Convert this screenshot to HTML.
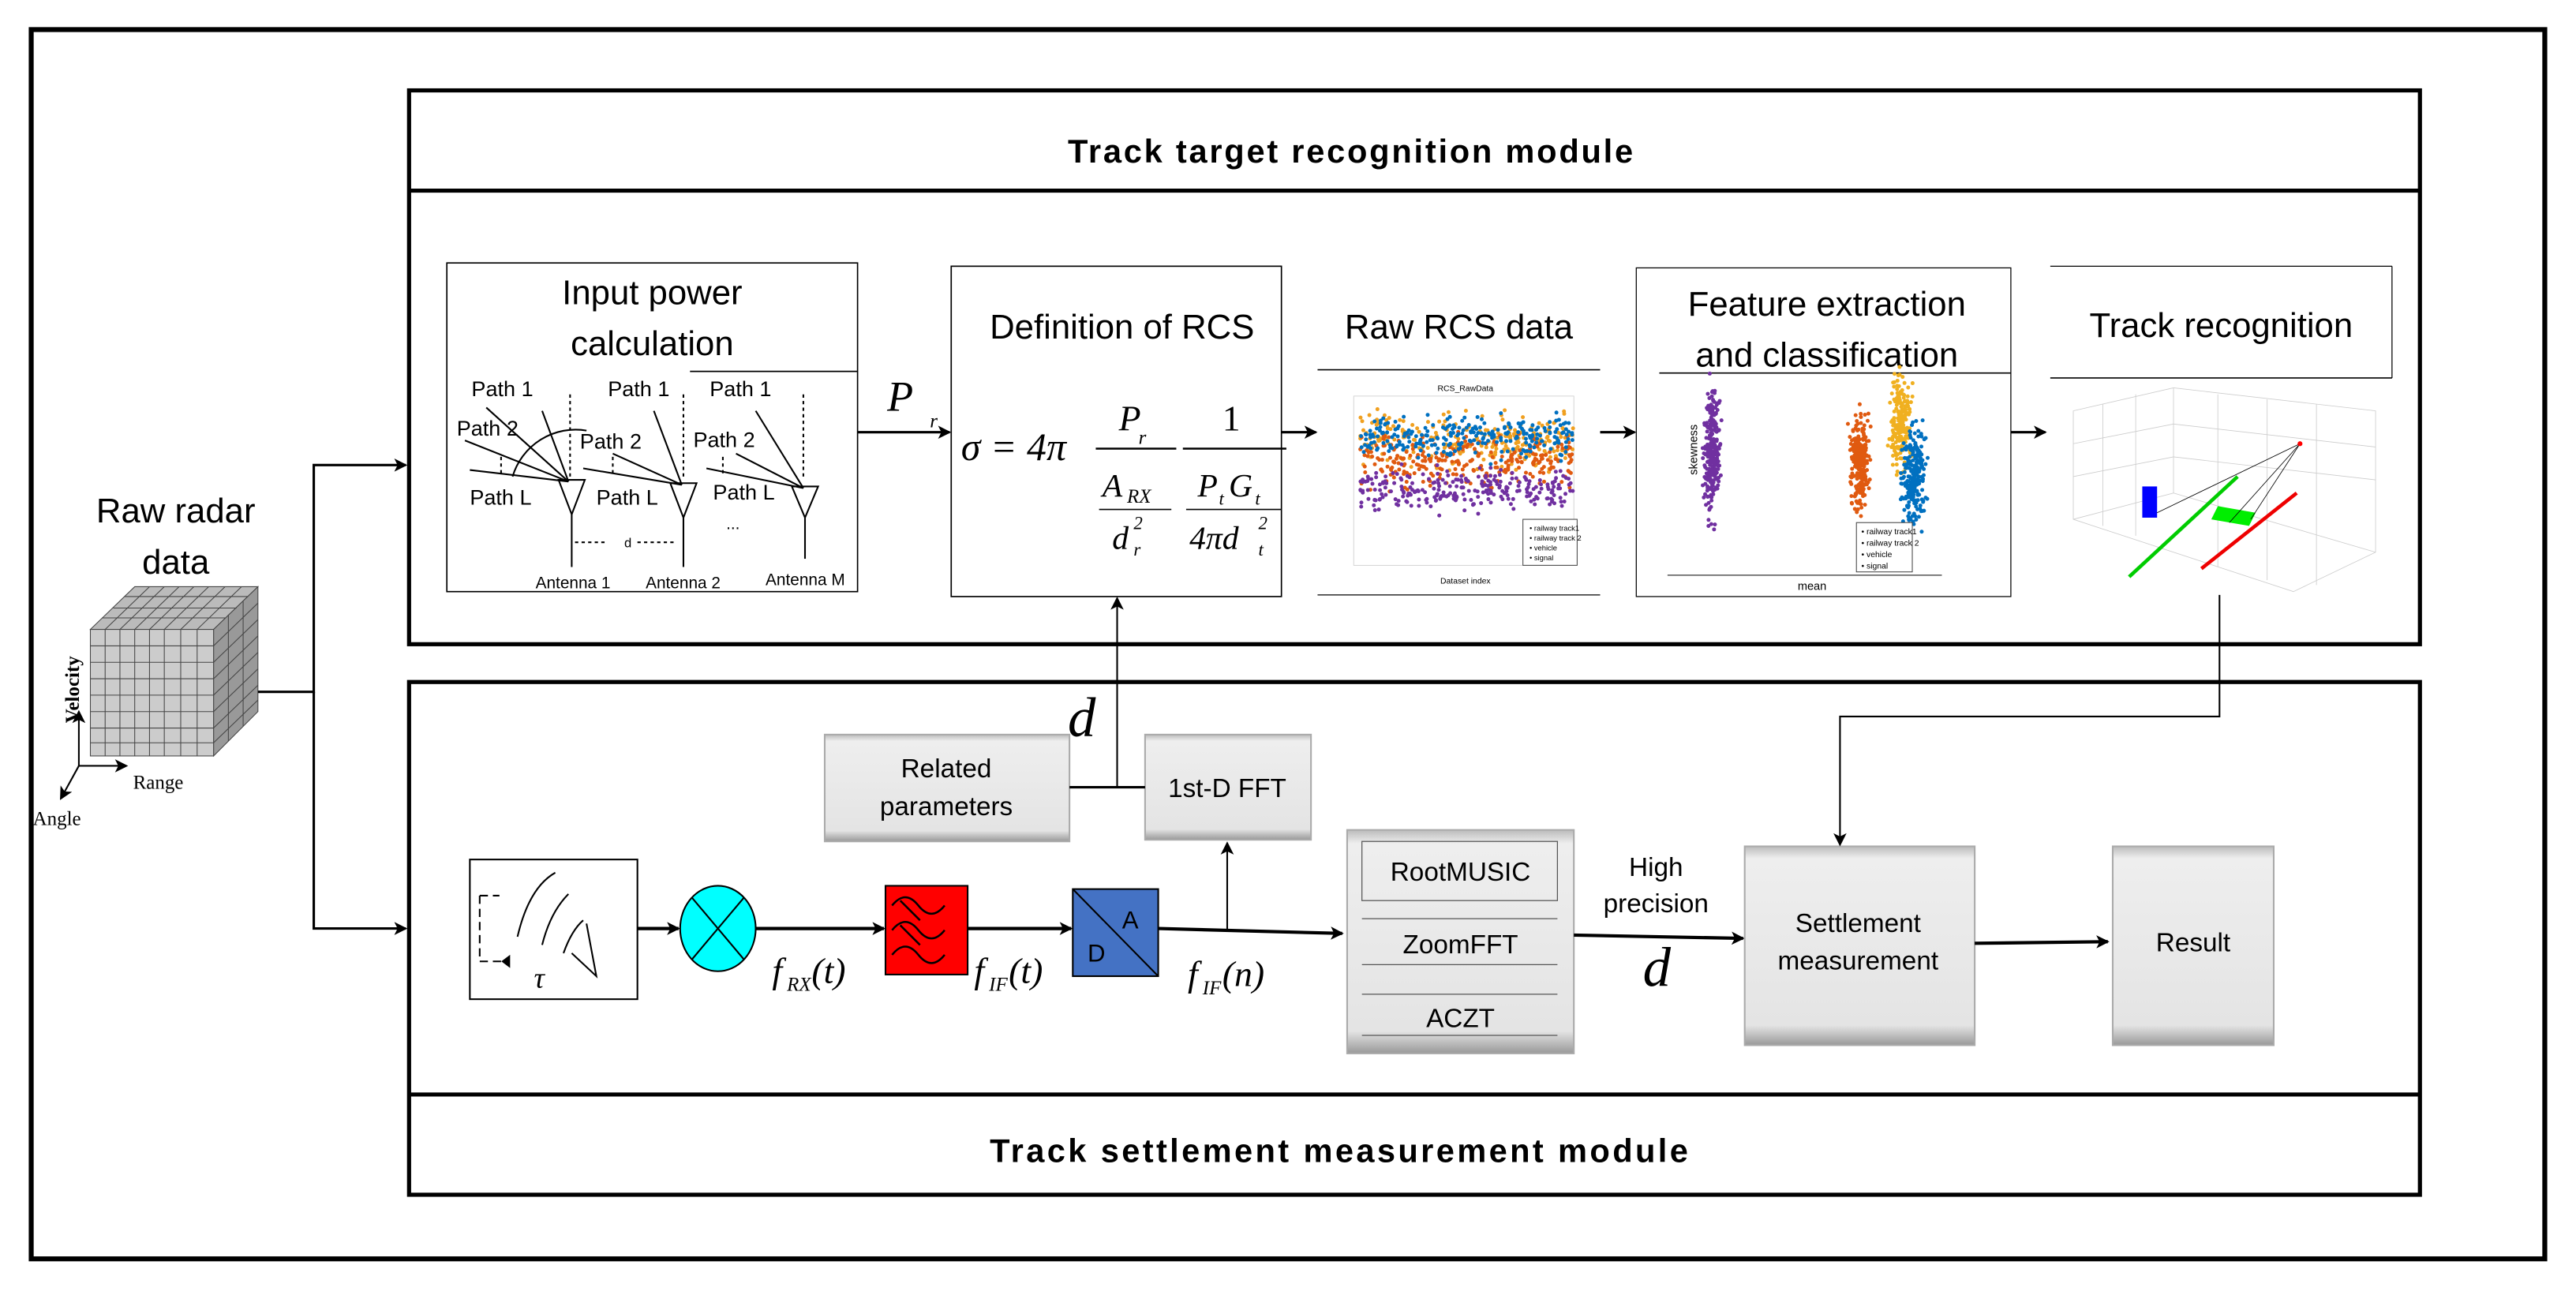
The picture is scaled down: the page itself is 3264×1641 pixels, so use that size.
<!DOCTYPE html>
<html><head><meta charset="utf-8"><style>
html,body{margin:0;padding:0;background:#fff}
svg{display:block}
text{font-family:"Liberation Sans",sans-serif}
.t text{font-family:"Liberation Sans Narrow","Liberation Sans",sans-serif}
.m text,text.m{font-family:"Liberation Serif",serif;font-style:italic}
.sr{font-family:"Liberation Serif",serif}
</style></head><body>
<svg id="s" width="3264" height="1641" viewBox="0 0 1568 788" preserveAspectRatio="none" xmlns="http://www.w3.org/2000/svg">
<defs>
<marker id="a" markerWidth="8" markerHeight="8" refX="7" refY="4" orient="auto" markerUnits="userSpaceOnUse"><path d="M0,0 L8,4 L0,8 L2,4z" fill="#000"/></marker>
<linearGradient id="g" x1="0" y1="0" x2="0" y2="1"><stop offset="0" stop-color="#bbb"/><stop offset="0.06" stop-color="#eee"/><stop offset="0.9" stop-color="#e4e4e4"/><stop offset="1" stop-color="#999"/></linearGradient>
</defs>
<rect x="19" y="18" width="1530" height="748" fill="none" stroke="#000" stroke-width="3"/>
<rect x="249" y="55" width="1224" height="337" fill="none" stroke="#000" stroke-width="2.5"/>
<line x1="249" y1="116" x2="1473" y2="116" stroke="#000" stroke-width="2.5"/>
<text x="822" y="99" font-size="20" font-weight="bold" text-anchor="middle" textLength="344">Track target recognition module</text>
<rect x="249" y="415" width="1224" height="312" fill="none" stroke="#000" stroke-width="2.5"/>
<line x1="249" y1="666" x2="1473" y2="666" stroke="#000" stroke-width="2.5"/>
<text x="815" y="707" font-size="20" font-weight="bold" text-anchor="middle" textLength="425">Track settlement measurement module</text>

<!-- Input power -->
<rect x="272" y="160" width="250" height="200" fill="#fff" stroke="#000" stroke-width="0.8"/>
<line x1="420" y1="226" x2="522" y2="226" stroke="#000" stroke-width="0.8"/>
<text x="397" y="185" font-size="21" text-anchor="middle">Input power</text>
<text x="397" y="216" font-size="21" text-anchor="middle">calculation</text>
<g font-size="13" stroke="#000" stroke-width="1" fill="none">
<line x1="296" y1="248" x2="346" y2="293"/><line x1="283" y1="268" x2="346" y2="293"/><line x1="286" y1="286" x2="346" y2="293"/>
<line x1="330" y1="250" x2="346" y2="293"/>
<line x1="347" y1="240" x2="347" y2="290" stroke-dasharray="2,2"/>
<line x1="305" y1="278" x2="305" y2="288" stroke-dasharray="2,2"/>
<path d="M340,292 L356,292 L348,313z"/><line x1="348" y1="313" x2="348" y2="345"/>
<path d="M312,290 A40,40 0 0 1 357,262"/>
<line x1="398" y1="250" x2="415" y2="295"/><line x1="373" y1="276" x2="415" y2="295"/><line x1="355" y1="285" x2="415" y2="295"/>
<line x1="416" y1="240" x2="416" y2="290" stroke-dasharray="2,2"/>
<line x1="373" y1="278" x2="373" y2="288" stroke-dasharray="2,2"/>
<path d="M408,294 L424,294 L416,315z"/><line x1="416" y1="315" x2="416" y2="345"/>
<line x1="460" y1="250" x2="489" y2="297"/><line x1="448" y1="276" x2="489" y2="297"/><line x1="430" y1="285" x2="489" y2="297"/>
<line x1="489" y1="240" x2="489" y2="292" stroke-dasharray="2,2"/>
<line x1="440" y1="278" x2="440" y2="288" stroke-dasharray="2,2"/>
<path d="M482,296 L498,296 L490,315z"/><line x1="490" y1="315" x2="490" y2="340"/>
<line x1="350" y1="330" x2="370" y2="330" stroke-dasharray="2,2"/><line x1="388" y1="330" x2="412" y2="330" stroke-dasharray="2,2"/>
</g>
<g class="t" font-size="13">
<text x="287" y="241">Path 1</text><text x="370" y="241">Path 1</text><text x="432" y="241">Path 1</text>
<text x="278" y="265">Path 2</text><text x="353" y="273">Path 2</text><text x="422" y="272">Path 2</text>
<text x="286" y="307">Path L</text><text x="363" y="307">Path L</text><text x="434" y="304">Path L</text>
<text x="380" y="333" font-size="8">d</text><text x="442" y="322" font-size="10">...</text>
<text x="326" y="358" font-size="10">Antenna 1</text><text x="393" y="358" font-size="10">Antenna 2</text><text x="466" y="356" font-size="10">Antenna M</text>
</g>
<line x1="522" y1="263" x2="578" y2="263" stroke="#000" stroke-width="1.5" marker-end="url(#a)"/>
<text class="m" x="540" y="250" font-size="26">P</text><text class="m" x="566" y="260" font-size="12">r</text>

<!-- RCS def -->
<rect x="579" y="162" width="201" height="201" fill="#fff" stroke="#000" stroke-width="0.8"/>
<text x="683" y="206" font-size="21" text-anchor="middle">Definition of RCS</text>
<g class="m">
<text x="585" y="280" font-size="24">σ = 4π</text>
<text x="681" y="262" font-size="22">P</text><text x="693" y="270" font-size="12">r</text>
<line x1="667" y1="273" x2="716" y2="273" stroke="#000" stroke-width="1.2"/>
<text x="671" y="302" font-size="20">A</text><text x="686" y="306" font-size="12">RX</text>
<line x1="669" y1="310" x2="713" y2="310" stroke="#000" stroke-width="0.8"/>
<text x="677" y="334" font-size="20">d</text><text x="690" y="322" font-size="11">2</text><text x="690" y="338" font-size="11">r</text>
<text x="744" y="262" font-size="22" style="font-style:normal">1</text>
<line x1="720" y1="273" x2="783" y2="273" stroke="#000" stroke-width="1.2"/>
<text x="729" y="302" font-size="20">P</text><text x="742" y="307" font-size="11">t</text><text x="748" y="302" font-size="20">G</text><text x="764" y="307" font-size="11">t</text>
<line x1="722" y1="310" x2="780" y2="310" stroke="#000" stroke-width="0.8"/>
<text x="724" y="334" font-size="20">4πd</text><text x="766" y="322" font-size="11">2</text><text x="766" y="338" font-size="11">t</text>
</g>
<line x1="780" y1="263" x2="801" y2="263" stroke="#000" stroke-width="1.5" marker-end="url(#a)"/>

<!-- Raw RCS -->
<text x="888" y="206" font-size="21" text-anchor="middle">Raw RCS data</text>
<line x1="802" y1="225" x2="974" y2="225" stroke="#000" stroke-width="0.8"/>
<line x1="802" y1="362" x2="974" y2="362" stroke="#000" stroke-width="0.6"/>
<rect x="824" y="241" width="134" height="103" fill="#fff" stroke="#ccc" stroke-width="0.4"/>
<text x="892" y="238" font-size="5" text-anchor="middle">RCS_RawData</text>
<text x="892" y="355" font-size="5" text-anchor="middle">Dataset index</text>
<g id="p1"></g>
<rect x="927" y="316" width="33" height="28" fill="#fff" stroke="#444" stroke-width="0.5"/>
<g font-size="4.5"><text x="931" y="323">• railway track1</text><text x="931" y="329">• railway track 2</text><text x="931" y="335">• vehicle</text><text x="931" y="341">• signal</text></g>
<line x1="974" y1="263" x2="995" y2="263" stroke="#000" stroke-width="1.5" marker-end="url(#a)"/>

<!-- Feature -->
<rect x="996" y="163" width="228" height="200" fill="#fff" stroke="#000" stroke-width="0.6"/>
<text x="1112" y="192" font-size="21" text-anchor="middle">Feature extraction</text>
<text x="1112" y="223" font-size="21" text-anchor="middle">and classification</text>
<line x1="1010" y1="227" x2="1224" y2="227" stroke="#000" stroke-width="0.8"/>
<line x1="1015" y1="350" x2="1182" y2="350" stroke="#333" stroke-width="0.6"/>
<text x="1010" y="300" font-size="7" transform="rotate(-90 1016 283)">skewness</text>
<text x="1103" y="359" font-size="7" text-anchor="middle">mean</text>
<g id="p2"></g>
<rect x="1130" y="318" width="34" height="30" fill="#fff" stroke="#444" stroke-width="0.5"/>
<g font-size="5"><text x="1133" y="325">• railway track1</text><text x="1133" y="332">• railway track 2</text><text x="1133" y="339">• vehicle</text><text x="1133" y="346">• signal</text></g>
<line x1="1224" y1="263" x2="1245" y2="263" stroke="#000" stroke-width="1.5" marker-end="url(#a)"/>

<!-- Track recognition -->
<line x1="1248" y1="162" x2="1456" y2="162" stroke="#000" stroke-width="0.6"/>
<line x1="1456" y1="162" x2="1456" y2="230" stroke="#000" stroke-width="0.6"/>
<text x="1352" y="205" font-size="21" text-anchor="middle">Track recognition</text>
<line x1="1248" y1="230" x2="1456" y2="230" stroke="#000" stroke-width="0.8"/>
<g stroke="#ccc" stroke-width="0.4" fill="none">
<path d="M1262,250 L1323,236 L1446,250 L1446,336 L1396,360 L1262,316 Z"/>
<path d="M1323,236 L1323,300 L1262,316 M1323,300 L1446,336"/>
<path d="M1280,246 L1280,320 M1300,240 L1300,326 M1350,240 L1350,345 M1380,243 L1380,353 M1410,246 L1410,356 M1262,270 L1323,258 L1446,272 M1262,290 L1323,278 L1446,292"/>
</g>
<rect x="1304" y="296" width="9" height="19" fill="#00f"/>
<line x1="1296" y1="351" x2="1362" y2="290" stroke="#0c0" stroke-width="2.2"/>
<line x1="1340" y1="346" x2="1398" y2="300" stroke="#e00" stroke-width="2.2"/>
<polygon points="1350,308 1373,312 1369,320 1346,316" fill="#0e0"/>
<g stroke="#000" stroke-width="0.4"><line x1="1313" y1="312" x2="1400" y2="270"/><line x1="1357" y1="318" x2="1400" y2="270"/><line x1="1370" y1="316" x2="1400" y2="270"/></g>
<circle cx="1400" cy="270" r="1.5" fill="red"/>

<!-- Raw radar data -->
<text x="107" y="318" font-size="21" text-anchor="middle">Raw radar</text>
<text x="107" y="349" font-size="21" text-anchor="middle">data</text>
<g stroke="#444" stroke-width="0.5">
<polygon points="55,383 82,357 157,357 130,383" fill="#bbb"/>
<polygon points="130,383 157,357 157,433 130,460" fill="#999"/>
<rect x="55" y="383" width="75" height="77" fill="#ccc"/>
<path d="M64,383V460M73,383V460M82,383V460M91,383V460M100,383V460M110,383V460M120,383V460M55,393H130M55,403H130M55,413H130M55,423H130M55,433H130M55,443H130M55,452H130M64,383L91,357M73,383L100,357M82,383L109,357M91,383L118,357M100,383L127,357M110,383L137,357M120,383L147,357M62,376H137M69,370H144M76,363H151M130,393L157,367M130,403L157,377M130,413L157,387M130,423L157,397M130,433L157,407M130,443L157,417M130,452L157,426M139,374V451M148,366V442" fill="none"/>
</g>
<g stroke="#000" stroke-width="1"><line x1="48" y1="466" x2="48" y2="433" marker-end="url(#a)"/><line x1="48" y1="466" x2="77" y2="466" marker-end="url(#a)"/><line x1="48" y1="466" x2="37" y2="486" marker-end="url(#a)"/></g>
<text class="sr" x="48" y="440" font-size="12" font-weight="bold" transform="rotate(-90 48 440)">Velocity</text>
<text class="sr" x="81" y="480" font-size="12">Range</text>
<text class="sr" x="20" y="502" font-size="12">Angle</text>
<g stroke="#000" stroke-width="1.5" fill="none"><path d="M157,421 H191 V283 H247" marker-end="url(#a)"/><path d="M191,421 V565 H247" marker-end="url(#a)"/></g>

<!-- bottom chain -->
<rect x="286" y="523" width="102" height="85" fill="#fff" stroke="#000" stroke-width="1"/>
<g stroke="#000" stroke-width="1" fill="none">
<path d="M292,545 H304 M292,545 V585 H310" stroke-dasharray="5,3"/><path d="M306,585 l4,-3 v6z" fill="#000"/>
<path d="M315,570 Q322,540 338,531"/><path d="M330,575 Q335,555 346,544"/><path d="M343,580 Q348,566 355,560"/><path d="M357,562 L363,594 L348,580"/>
</g>
<text class="m" x="325" y="601" font-size="18">τ</text>
<line x1="388" y1="565" x2="413" y2="565" stroke="#000" stroke-width="2" marker-end="url(#a)"/>
<ellipse cx="437" cy="565" rx="23" ry="26" fill="#0ff" stroke="#000"/>
<line x1="421" y1="546" x2="453" y2="584" stroke="#000"/><line x1="453" y1="546" x2="421" y2="584" stroke="#000"/>
<line x1="460" y1="565" x2="538" y2="565" stroke="#000" stroke-width="2" marker-end="url(#a)"/>
<rect x="539" y="539" width="50" height="54" fill="#f00" stroke="#000"/>
<g stroke="#000" stroke-width="1.2" fill="none"><path d="M543,551 q8,-10 16,0 t16,0"/><path d="M543,566 q8,-10 16,0 t16,0"/><path d="M543,581 q8,-10 16,0 t16,0"/><line x1="548" y1="548" x2="560" y2="560"/><line x1="548" y1="563" x2="560" y2="575"/></g>
<line x1="589" y1="565" x2="652" y2="565" stroke="#000" stroke-width="2" marker-end="url(#a)"/>
<rect x="653" y="541" width="52" height="53" fill="#4472c4" stroke="#000"/>
<line x1="653" y1="541" x2="705" y2="594" stroke="#000"/>
<text x="683" y="565" font-size="15">A</text><text x="662" y="585" font-size="15">D</text>
<line x1="705" y1="565" x2="817" y2="568" stroke="#000" stroke-width="2" marker-end="url(#a)"/>
<g class="m" font-size="22"><text x="470" y="598">f</text><text x="479" y="603" font-size="12">RX</text><text x="494" y="598">(t)</text>
<text x="593" y="598">f</text><text x="602" y="603" font-size="12">IF</text><text x="614" y="598">(t)</text>
<text x="723" y="600">f</text><text x="732" y="605" font-size="12">IF</text><text x="744" y="600">(n)</text></g>
<line x1="747" y1="566" x2="747" y2="513" stroke="#000" stroke-width="1" marker-end="url(#a)"/>

<rect x="502" y="447" width="149" height="65" fill="url(#g)" stroke="#aaa"/>
<text x="576" y="473" font-size="16" text-anchor="middle">Related</text><text x="576" y="496" font-size="16" text-anchor="middle">parameters</text>
<rect x="697" y="447" width="101" height="64" fill="url(#g)" stroke="#aaa"/>
<text x="747" y="485" font-size="16" text-anchor="middle">1st-D FFT</text>
<line x1="651" y1="479" x2="697" y2="479" stroke="#000" stroke-width="1.5"/>
<line x1="680" y1="479" x2="680" y2="364" stroke="#000" stroke-width="1" marker-end="url(#a)"/>
<text class="m" x="650" y="448" font-size="34">d</text>

<rect x="820" y="505" width="138" height="136" fill="url(#g)" stroke="#aaa"/>
<rect x="829" y="512" width="119" height="36" fill="none" stroke="#555" stroke-width="0.6"/>
<g stroke="#555" stroke-width="0.6"><line x1="829" y1="559" x2="948" y2="559"/><line x1="829" y1="587" x2="948" y2="587"/><line x1="829" y1="605" x2="948" y2="605"/><line x1="829" y1="630" x2="948" y2="630"/></g>
<text x="889" y="536" font-size="16" text-anchor="middle">RootMUSIC</text>
<text x="889" y="580" font-size="16" text-anchor="middle">ZoomFFT</text>
<text x="889" y="625" font-size="16" text-anchor="middle">ACZT</text>
<line x1="958" y1="569" x2="1061" y2="571" stroke="#000" stroke-width="2" marker-end="url(#a)"/>
<text x="1008" y="533" font-size="16" text-anchor="middle">High</text><text x="1008" y="555" font-size="16" text-anchor="middle">precision</text>
<text class="m" x="1000" y="600" font-size="34">d</text>
<rect x="1062" y="515" width="140" height="121" fill="url(#g)" stroke="#aaa"/>
<text x="1131" y="567" font-size="16" text-anchor="middle">Settlement</text><text x="1131" y="590" font-size="16" text-anchor="middle">measurement</text>
<line x1="1202" y1="574" x2="1283" y2="573" stroke="#000" stroke-width="2" marker-end="url(#a)"/>
<rect x="1286" y="515" width="98" height="121" fill="url(#g)" stroke="#aaa"/>
<text x="1335" y="579" font-size="16" text-anchor="middle">Result</text>
<path d="M1351,362 V436 H1120 V514" fill="none" stroke="#000" stroke-width="1" marker-end="url(#a)"/>
</svg>
<script>
var s=7;function r(){s=(s*16807)%2147483647;return s/2147483647}
function n(){return (r()+r()+r()-1.5)/1.5}
var NS="http://www.w3.org/2000/svg";
function dot(g,x,y,c,rad){var e=document.createElementNS(NS,"circle");e.setAttribute("cx",x);e.setAttribute("cy",y);e.setAttribute("r",rad);e.setAttribute("fill",c);g.appendChild(e)}
var g1=document.getElementById("p1");
[["#f0a020",268,22],["#e05a10",280,22],["#0070c0",266,18],["#7030a0",298,18]].forEach(function(a){for(var i=0;i<260;i++)dot(g1,828+r()*130,a[1]+n()*a[2],a[0],1.2)});
var g2=document.getElementById("p2");
for(var i=0;i<260;i++)dot(g2,1042+n()*7,275+n()*55,"#7030a0",1.2);
for(var i=0;i<260;i++)dot(g2,1132+n()*9,282+n()*40,"#e05a10",1.2);
for(var i=0;i<200;i++)dot(g2,1157+n()*9,258+n()*38,"#f0b020",1.2);
for(var i=0;i<260;i++)dot(g2,1165+n()*10,288+n()*40,"#0070c0",1.2);
</script>
</body></html>
